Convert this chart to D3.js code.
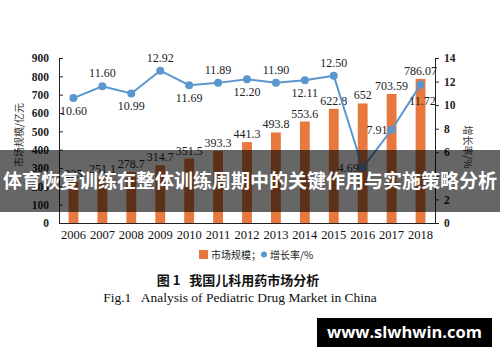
<!DOCTYPE html>
<html><head><meta charset="utf-8">
<script src="https://cdn.jsdelivr.net/npm/d3@7"></script>
<style>body{margin:0;background:#fff}svg{display:block}</style>
</head><body>
<svg id="c" width="500" height="362"></svg>
<script>
const years = ["2006","2007","2008","2009","2010","2011","2012","2013","2014","2015","2016","2017","2018"];
const marketSize = [225,251.1,278.7,314.7,351.5,393.3,441.3,493.8,553.6,622.8,652,703.59,786.07];
const marketLabels = ["225","251.1","278.7","314.7","351.5","393.3","441.3","493.8","553.6","622.8","652","703.59","786.07"];
const growthRate = [10.60,11.60,10.99,12.92,11.69,11.89,12.20,11.90,12.11,12.50,4.69,7.91,11.72];
const growthLabels = ["10.60","11.60","10.99","12.92","11.69","11.89","12.20","11.90","12.11","12.50","4.69","7.91","11.72"];
const growthPos = ["below","above","below","above","below","above","below","above","below","above","left","left","belowright"];
const leftTicks = [0,100,200,300,400,500,600,700,800,900];
const rightTicks = [0,2,4,6,8,10,12,14];

const svg = d3.select("#c");
const L = 59, R = 435, T = 58, B = 223;
const serif = "'Liberation Serif','DejaVu Serif',serif";
const cjk = "'Noto Sans CJK SC',sans-serif";
const orange = "#E8793E", blue = "#5B96CE";

const x = d3.scaleBand().domain(years).range([L, R]).paddingInner(0.66).paddingOuter(0.33);
const yL = d3.scaleLinear().domain([0,900]).range([B, T]);
const yR = d3.scaleLinear().domain([0,14]).range([B, T]);

// bars
svg.selectAll("rect.bar").data(marketSize).join("rect")
  .attr("x", (d,i)=>x(years[i])).attr("width", x.bandwidth())
  .attr("y", d=>yL(d)).attr("height", d=>B-yL(d)).attr("fill", orange);
svg.selectAll("text.bl").data(marketSize).join("text")
  .attr("x",(d,i)=>x(years[i])+x.bandwidth()/2).attr("y",d=>yL(d)-4)
  .attr("text-anchor","middle").attr("font-family",serif).attr("font-size",12).attr("fill","#222")
  .text((d,i)=>marketLabels[i]);

// axes
const axL = d3.axisLeft(yL).tickValues(leftTicks).tickSizeInner(-4).tickSizeOuter(-4).tickPadding(10);
const gL = svg.append("g").attr("transform",`translate(${L},0)`).call(axL);
const axR = d3.axisRight(yR).tickValues(rightTicks).tickSizeInner(4).tickSizeOuter(4).tickPadding(5);
const gR = svg.append("g").attr("transform",`translate(${R},0)`).call(axR);
const axB = d3.axisBottom(x).tickSize(0).tickSizeOuter(0).tickPadding(7);
const gB = svg.append("g").attr("transform",`translate(0,${B})`).call(axB);
[gL,gR,gB].forEach(g=>{
  g.selectAll("text").attr("font-family",serif).attr("font-size",12).attr("fill","#222");
  g.selectAll("path,line").attr("stroke","#222");
});
gL.selectAll("text").attr("font-weight","bold").attr("font-size",11.5);
gR.selectAll("text").attr("font-weight","bold").attr("font-size",11.5);
gB.selectAll("text").attr("font-size",12.5).attr("fill","#111");

// axis titles
svg.append("text").attr("transform","translate(23,135) rotate(-90)").attr("text-anchor","middle")
  .attr("font-family",cjk).attr("font-size",10).attr("fill","#333").text("市场规模/亿元");
svg.append("text").attr("transform","translate(464,147) rotate(90)").attr("text-anchor","middle")
  .attr("font-family",cjk).attr("font-size",10).attr("fill","#333").text("增长率/%");

// line
const cx = i => x(years[i]) + x.bandwidth()/2;
const line = d3.line().x((d,i)=>cx(i)).y(d=>yR(d));
svg.append("path").datum(growthRate).attr("d",line).attr("fill","none").attr("stroke",blue).attr("stroke-width",2);
svg.selectAll("circle.pt").data(growthRate).join("circle")
  .attr("cx",(d,i)=>cx(i)).attr("cy",d=>yR(d)).attr("r",4).attr("fill",blue);
svg.selectAll("text.gl").data(growthRate).join("text")
  .attr("x",(d,i)=>{const p=growthPos[i]; return p==="left"?cx(i)-4:p==="belowright"?cx(i)+2:cx(i);})
  .attr("y",(d,i)=>{const p=growthPos[i]; const y=yR(d);
     return p==="above"?y-9:p==="below"?y+17:p==="left"?y+4:y+20;})
  .attr("text-anchor",(d,i)=>growthPos[i]==="left"?"end":"middle")
  .attr("font-family",serif).attr("font-size",12).attr("fill","#222")
  .text((d,i)=>growthLabels[i]);

// legend
svg.append("rect").attr("x",199).attr("y",250).attr("width",9).attr("height",9).attr("fill",orange);
svg.append("text").attr("x",211).attr("y",258.5).attr("font-family",cjk).attr("font-size",10).attr("fill","#222").text("市场规模；");
svg.append("circle").attr("cx",264).attr("cy",254.5).attr("r",3).attr("fill",blue);
svg.append("text").attr("x",270).attr("y",258.5).attr("font-family",cjk).attr("font-size",10).attr("fill","#222").text("增长率/%");

// captions
svg.append("text").attr("x",238).attr("y",285).attr("text-anchor","middle").attr("font-family","'Noto Sans CJK SC',serif")
  .attr("font-weight","bold").attr("font-size",13).attr("fill","#111").attr("xml:space","preserve").text("图 1   我国儿科用药市场分析");
svg.append("text").attr("x",240).attr("y",302).attr("text-anchor","middle").attr("font-family",serif)
  .attr("font-size",13.5).attr("fill","#111").attr("xml:space","preserve").text("Fig.1   Analysis of Pediatric Drug Market in China");

// overlay banner
svg.append("rect").attr("x",0).attr("y",150).attr("width",500).attr("height",62).attr("fill","rgba(0,0,0,0.6)");
svg.append("text").attr("x",250).attr("y",188).attr("text-anchor","middle").attr("font-family",cjk)
  .attr("font-weight","bold").attr("font-size",19).attr("fill","#fff").text("体育恢复训练在整体训练周期中的关键作用与实施策略分析");

// watermark
svg.append("rect").attr("x",317).attr("y",318).attr("width",175).attr("height",29).attr("fill","#000");
svg.append("text").attr("x",404.5).attr("y",338).attr("text-anchor","middle").attr("font-family","'Open Sans','DejaVu Sans',sans-serif")
  .attr("font-weight","bold").attr("font-size",16.5).attr("fill","#fff").text("www.slwhwin.com");
</script>
</body></html>
